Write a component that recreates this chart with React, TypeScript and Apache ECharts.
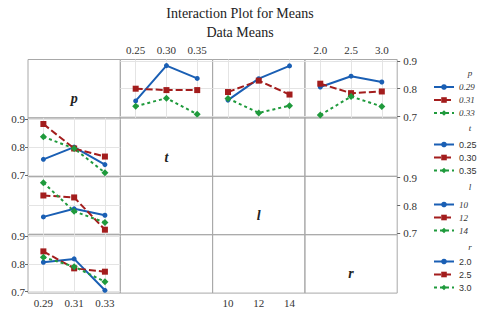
import React, { useEffect, useRef } from 'react';
import * as echarts from 'echarts';

const FACTORS = ['p', 't', 'l', 'r'];
const P_LEVELS = [0.29, 0.31, 0.33];
const T_LEVELS = [0.25, 0.3, 0.35];
const L_LEVELS = [10, 12, 14];
const R_LEVELS = [2.0, 2.5, 3.0];
const Y_TICKS = [0.7, 0.8, 0.9];

// cell means: rows = levels of p, columns = levels of the other factor
const MEANS_P_T = [
  [0.756, 0.883, 0.837],
  [0.8, 0.795, 0.795],
  [0.737, 0.766, 0.708],
];
const MEANS_P_L = [
  [0.759, 0.836, 0.882],
  [0.788, 0.829, 0.779],
  [0.765, 0.713, 0.739],
];
const MEANS_P_R = [
  [0.806, 0.845, 0.824],
  [0.818, 0.784, 0.79],
  [0.705, 0.772, 0.736],
];

const LEVELS = [P_LEVELS, T_LEVELS, L_LEVELS, R_LEVELS];
const DIGITS = [2, 2, 0, 1];
const MEANS = [null, MEANS_P_T, MEANS_P_L, MEANS_P_R];

const COLORS = ['#1a5fb4', '#a31d1d', '#1f9a3c'];
const DASHES: any[] = ['solid', [7, 3], [3, 3]];
const SYMBOLS = ['circle', 'rect', 'diamond'];
const SYMBOL_SIZES = [5, 6, 7];

const SERIF = 'Liberation Serif';
const SANS = 'Liberation Sans';

const X0 = 28;
const Y0 = 59.5;
const CW = 92.3;
const CH = 58.4;

function fmt(f: number, v: number) {
  return v.toFixed(DIGITS[f]);
}
function range(f: number) {
  const lv = LEVELS[f];
  const step = lv[1] - lv[0];
  return [lv[0] - step / 2, lv[lv.length - 1] + step / 2];
}

export default function App() {
  const ref = useRef<HTMLDivElement>(null);
  useEffect(() => {
    if (!ref.current) return;
    const chart = echarts.init(ref.current, null, { renderer: 'svg' });
    const grids: any[] = [];
    const xAxes: any[] = [];
    const yAxes: any[] = [];
    const series: any[] = [];
    for (let r = 0; r < 4; r++) {
      for (let c = 0; c < 4; c++) {
        const k = r * 4 + c;
        const isData = r !== c && (r === 0 || c === 0);
        grids.push({
          left: X0 + c * CW,
          top: Y0 + r * CH,
          width: CW,
          height: CH,
          show: true,
          borderColor: '#a8a8a8',
          borderWidth: 1,
          backgroundColor: 'transparent',
          containLabel: false,
          outerBoundsMode: 'none',
        });
        const showX = (r === 0 && (c === 1 || c === 3)) || (r === 3 && (c === 0 || c === 2));
        const showY = (c === 0 && (r === 1 || r === 3)) || (c === 3 && (r === 0 || r === 2));
        const [xmin, xmax] = range(c);
        xAxes.push({
          gridIndex: k,
          type: 'value',
          min: xmin,
          max: xmax,
          position: r === 0 ? 'top' : 'bottom',
          axisLine: { show: false },
          axisTick: { show: false, customValues: LEVELS[c] },
          axisLabel: {
            show: showX,
            customValues: LEVELS[c],
            formatter: (v: number) => fmt(c, v),
            fontFamily: SERIF,
            fontSize: 11,
            color: '#333',
            margin: 4,
          },
          splitLine: { show: isData, lineStyle: { color: '#e4e4e4', width: 1 } },
        });
        yAxes.push({
          gridIndex: k,
          type: 'value',
          min: 0.695,
          max: 0.905,
          position: c === 0 ? 'left' : 'right',
          axisLine: { show: false },
          axisTick: { show: showY, length: 3, customValues: Y_TICKS, lineStyle: { color: '#666' } },
          axisLabel: {
            show: showY,
            customValues: Y_TICKS,
            formatter: (v: number) => v.toFixed(1),
            fontFamily: SERIF,
            fontSize: 11,
            color: '#333',
            margin: c === 0 ? 3 : 6,
          },
          splitLine: { show: isData, lineStyle: { color: '#e4e4e4', width: 1 } },
        });
        if (isData) {
          if (r === 0) {
            const M = MEANS[c] as number[][];
            P_LEVELS.forEach((pv, i) => {
              series.push(mkSeries(`p:${fmt(0, pv)}`, i, k, LEVELS[c].map((x, j) => [x, M[i][j]])));
            });
          } else {
            const M = MEANS[r] as number[][];
            LEVELS[r].forEach((lv, j) => {
              series.push(mkSeries(`${FACTORS[r]}:${fmt(r, lv)}`, j, k, P_LEVELS.map((x, i) => [x, M[i][j]])));
            });
          }
        }
      }
    }
    const legendTops = [76.5, 134, 194, 251];
    const legendTitleY = [72.5, 128, 187, 247];
    const legends = FACTORS.map((f, fi) => ({
      orient: 'vertical',
      left: 428,
      top: legendTops[fi],
      itemWidth: 20,
      itemHeight: 7,
      itemGap: 2,
      selectedMode: false,
      formatter: (n: string) => n.split(':')[1],
      textStyle: {
        fontFamily: fi === 0 || fi === 2 ? SERIF : SANS,
        fontStyle: fi === 0 || fi === 2 ? 'italic' : 'normal',
        fontSize: 9,
        lineHeight: 11,
        color: '#333',
      },
      data: LEVELS[fi].map((v) => `${f}:${fmt(fi, v)}`),
    }));
    const graphic: any[] = [];
    FACTORS.forEach((f, i) => {
      graphic.push({
        type: 'text',
        x: X0 + i * CW + CW / 2,
        y: Y0 + i * CH + CH / 2 + 10,
        style: {
          text: f,
          fontFamily: SERIF,
          fontSize: 14,
          fontStyle: 'italic',
          fontWeight: 'bold',
          fill: '#222',
          align: 'center',
          verticalAlign: 'middle',
        },
      });
      graphic.push({
        type: 'text',
        x: 470,
        y: legendTitleY[i],
        style: {
          text: f,
          fontFamily: SERIF,
          fontSize: 9,
          fontStyle: 'italic',
          fill: '#333',
          align: 'center',
          verticalAlign: 'middle',
        },
      });
    });
    chart.setOption({
      animation: false,
      backgroundColor: '#fff',
      title: {
        text: 'Interaction Plot for Means',
        subtext: 'Data Means',
        left: 'center',
        top: 1,
        itemGap: 5,
        textStyle: { fontFamily: SERIF, fontSize: 14, fontWeight: 'normal', color: '#222' },
        subtextStyle: { fontFamily: SERIF, fontSize: 14, fontWeight: 'normal', color: '#222' },
      },
      grid: grids,
      xAxis: xAxes,
      yAxis: yAxes,
      legend: legends,
      series,
      graphic,
    });
    return () => chart.dispose();
  }, []);
  return <div ref={ref} style={{ position: 'fixed', left: 0, top: 0, width: 480, height: 311 }} />;
}

function mkSeries(name: string, idx: number, k: number, data: number[][]) {
  return {
    type: 'line',
    name,
    xAxisIndex: k,
    yAxisIndex: k,
    data,
    symbol: SYMBOLS[idx],
    symbolSize: SYMBOL_SIZES[idx],
    lineStyle: { color: COLORS[idx], width: 2, type: DASHES[idx] },
    itemStyle: { color: COLORS[idx] },
    emphasis: { disabled: true },
  };
}
